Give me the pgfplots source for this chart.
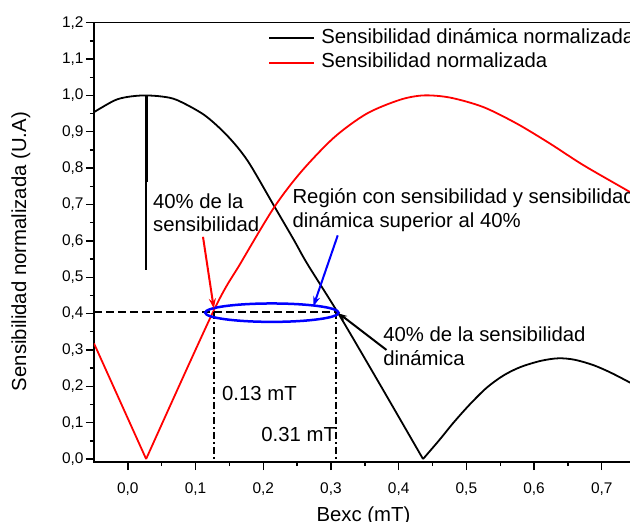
\documentclass[border=0pt]{standalone}
\usepackage{fontspec}
\setmainfont{Liberation Sans}
\usepackage{pgfplots}
\usepackage{pgfplotstable}
\pgfplotsset{compat=1.18}
\usetikzlibrary{arrows.meta}

% Sensibilidad dinamica normalizada (curva negra)
\pgfplotstableread{
x y
-0.050 0.954
-0.020 0.986
0.000 0.996
0.024 1.000
0.050 0.997
0.073 0.987
0.113 0.946
0.147 0.889
0.177 0.820
0.216 0.696
0.246 0.600
0.265 0.537
0.311 0.400
0.373 0.203
0.436 0.000
0.460 0.052
0.481 0.100
0.505 0.150
0.530 0.196
0.555 0.230
0.580 0.253
0.610 0.270
0.636 0.277
0.660 0.273
0.688 0.258
0.715 0.236
0.746 0.206
}\dinamica

% Sensibilidad normalizada (curva roja)
\pgfplotstableread{
x y
-0.050 0.318
0.027 0.000
0.127 0.409
0.167 0.540
0.216 0.692
0.256 0.790
0.305 0.885
0.353 0.950
0.402 0.988
0.437 1.000
0.476 0.994
0.525 0.968
0.575 0.922
0.624 0.867
0.673 0.808
0.742 0.734
0.746 0.729
}\sensib

\newcommand{\bigtxt}{\fontsize{20.4}{24}\selectfont}

\begin{document}
\begin{tikzpicture}
\useasboundingbox (-94bp,-60bp) rectangle (536bp,462bp);
\begin{pgfinterruptboundingbox}
\begin{axis}[
    at={(0,0)}, anchor=south west,
    scale only axis, width=538.9bp, height=439.3bp,
    xmin=-0.05, xmax=0.746, ymin=-0.0082, ymax=1.2,
    xtick={0,0.1,0.2,0.3,0.4,0.5,0.6,0.7},
    ytick={0,0.1,0.2,0.3,0.4,0.5,0.6,0.7,0.8,0.9,1.0,1.1,1.2},
    minor x tick num=1, minor y tick num=1,
    xtick pos=left, ytick pos=left,
    tick align=outside,
    major tick length=8bp, minor tick length=4bp,
    axis line style={line width=1.5bp},
    every tick/.style={black, line width=1.4bp},
    tick label style={font=\fontsize{15.5}{17}\selectfont},
    /pgf/number format/fixed,
    /pgf/number format/fixed zerofill,
    /pgf/number format/precision=1,
    /pgf/number format/use comma,
    /pgf/number format/assume math mode=true,
    xticklabel style={yshift=-9bp},
    yticklabel style={xshift=1bp},
    xlabel={Bexc (mT)},
    ylabel={Sensibilidad normalizada (U.A)},
    every axis x label/.style={at={(axis description cs:0.5,0)}, anchor=base, yshift=-59.5bp, font=\bigtxt},
    every axis y label/.style={at={(axis description cs:-0.1355,0.479)}, rotate=90, anchor=center, font=\bigtxt},
    legend style={draw=none, fill=none, inner sep=0pt, outer sep=0pt,
        at={(axis description cs:0.3234,0.9873)}, anchor=north west,
        font=\bigtxt, row sep=4.4bp, column sep=6bp,
        nodes={inner sep=0pt, text height=15bp, text depth=5bp}},
    legend cell align=left,
    legend image code/.code={\draw[#1, line width=2bp] (0bp,0bp) -- (45bp,0bp);},
]

\addplot[black, line width=1.8bp, smooth, restrict x to domain=-0.06:0.437] table[x=x, y=y] {\dinamica};
\addlegendentry{Sensibilidad dinámica normalizada}
\addplot[red, line width=1.8bp, restrict x to domain=-0.06:0.028] table[x=x, y=y] {\sensib};
\addlegendentry{Sensibilidad normalizada}
\addplot[black, line width=1.8bp, smooth, restrict x to domain=0.435:0.75, forget plot] table[x=x, y=y] {\dinamica};
\addplot[red, line width=1.8bp, smooth, restrict x to domain=0.026:0.75, forget plot] table[x=x, y=y] {\sensib};

% linea vertical negra
\draw[line width=3bp] (axis cs:0.0272,1.0) -- (axis cs:0.0272,0.762);
\draw[line width=2bp] (axis cs:0.0272,0.762) -- (axis cs:0.0272,0.52);

% lineas de 40%
\draw[line width=2bp, dash pattern=on 8bp off 4bp] (axis cs:-0.05,0.405) -- (axis cs:0.31,0.405);
\draw[line width=2bp, dash pattern=on 7bp off 3bp on 2bp off 3bp] (axis cs:0.1266,0.405) -- (axis cs:0.1266,0);
\draw[line width=2bp, dash pattern=on 7bp off 3bp on 2bp off 3bp] (axis cs:0.308,0.405) -- (axis cs:0.308,0);

% region
\draw[blue, line width=2.5bp] (axis cs:0.2127,0.4025) ellipse [x radius=0.0985, y radius=0.0253];

% flechas
\draw[red, line width=2bp, -{Stealth[length=10bp,width=7bp]}] (axis cs:0.111,0.611) -- (axis cs:0.127,0.414);
\draw[blue, line width=2bp, -{Stealth[length=10bp,width=7bp]}] (axis cs:0.310,0.615) -- (axis cs:0.274,0.42);
\draw[black, line width=2bp, -{Stealth[length=8bp,width=6bp]}] (axis cs:0.382,0.30) -- (axis cs:0.312,0.40);

% textos
\node[font=\bigtxt, inner sep=0pt, anchor=base west] at (axis cs:0.037,0.689) {40\% de la};
\node[font=\bigtxt, inner sep=0pt, anchor=base west] at (axis cs:0.037,0.625) {sensibilidad};
\node[font=\bigtxt, inner sep=0pt, anchor=base west] at (axis cs:0.243,0.704) {Región con sensibilidad y sensibilidad};
\node[font=\bigtxt, inner sep=0pt, anchor=base west] at (axis cs:0.243,0.637) {dinámica superior al 40\%};
\node[font=\bigtxt, inner sep=0pt, anchor=base west] at (axis cs:0.139,0.162) {0.13 mT};
\node[font=\bigtxt, inner sep=0pt, anchor=base west] at (axis cs:0.197,0.0476) {0.31 mT};
\node[font=\bigtxt, inner sep=0pt, anchor=base west] at (axis cs:0.377,0.324) {40\% de la sensibilidad};
\node[font=\bigtxt, inner sep=0pt, anchor=base west] at (axis cs:0.377,0.258) {dinámica};
\end{axis}
\end{pgfinterruptboundingbox}
\end{tikzpicture}
\end{document}
